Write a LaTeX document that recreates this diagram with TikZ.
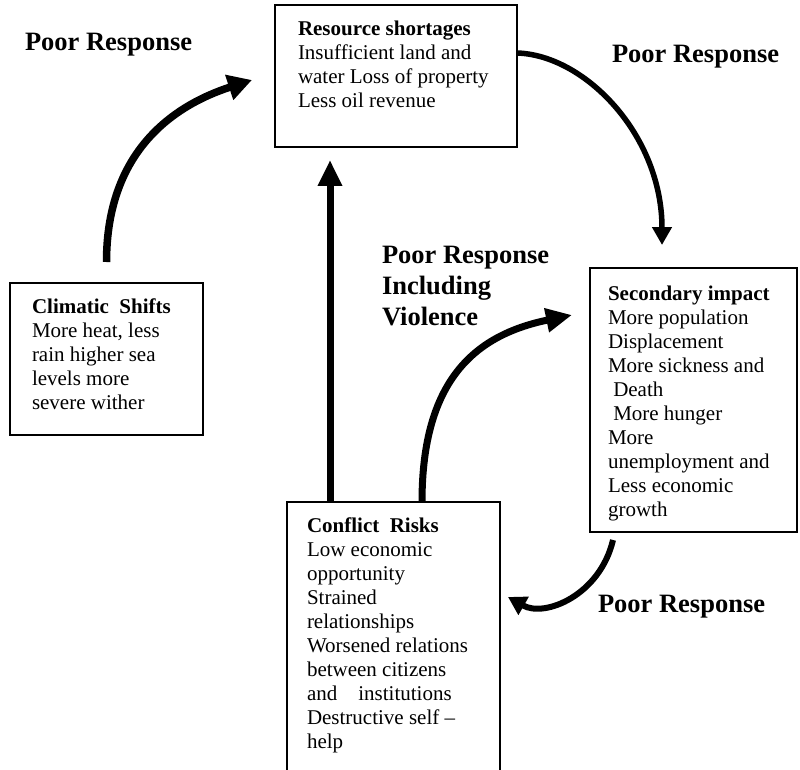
\documentclass[tikz,border=0pt]{standalone}
\usepackage{fontspec}
\setmainfont{Liberation Serif}
\usetikzlibrary{arrows.meta}
\begin{document}
\begin{tikzpicture}[x=1pt,y=-1pt,
  box/.style={draw, line width=1.8pt, rectangle, inner sep=0pt, outer sep=0pt, anchor=north west},
  txt/.style={anchor=north west, inner sep=0pt, outer sep=0pt, align=left, font=\fontsize{21}{24}\selectfont},
  lbl/.style={inner sep=0pt, outer sep=0pt, align=left, font=\fontsize{26.5}{31}\selectfont\bfseries},
  arrbig/.style={line width=7.5pt, -{Triangle[length=24pt,width=25pt]}},
  arrmid/.style={line width=7pt, -{Triangle[length=26pt,width=23pt]}},
  arrsmall/.style={line width=5.5pt, -{Triangle[length=18pt,width=19pt]}},
  arrlow/.style={line width=6pt, -{Triangle[length=18pt,width=20pt]}},
]
\useasboundingbox (0,0) rectangle (800,770);
\clip (0,0) rectangle (800,770);

% boxes
\node[box, minimum width=242pt, minimum height=142pt] (res) at (275,5) {};
\node[txt] (resT) at ([shift={(23,15.7)}]res.north west)
  {\textbf{Resource shortages}\\Insufficient land and\\water Loss of property\\Less oil revenue};

\node[box, minimum width=193pt, minimum height=152pt] (clim) at (10,283) {};
\node[txt] (climT) at ([shift={(22,15.7)}]clim.north west)
  {\textbf{Climatic\ \ Shifts}\\More heat, less\\rain higher sea\\levels more\\severe wither};

\node[box, minimum width=207pt, minimum height=264pt] (sec) at (590,268) {};
\node[txt] (secT) at ([shift={(18,17.5)}]sec.north west)
  {\textbf{Secondary impact}\\More population\\Displacement\\More sickness and\\\hspace*{0.25em}Death\\\hspace*{0.25em}More hunger\\More\\unemployment and\\Less economic\\growth};

\node[box, minimum width=213pt, minimum height=290pt] (conf) at (287,502) {};
\node[txt] (confT) at ([shift={(20,15.7)}]conf.north west)
  {\textbf{Conflict\ \ Risks}\\Low economic\\opportunity\\Strained\\relationships\\Worsened relations\\between citizens\\and\ \ \ \ institutions\\Destructive self --\\help};

% labels
\node[lbl, anchor=base west] (pr1) at (25,51) {Poor Response};
\node[lbl, anchor=base west] (pr2) at (612,63) {Poor Response};
\node[lbl, anchor=north west] (pr3) at (382,246) {Poor Response\\Including\\Violence};
\node[lbl, anchor=base west] (pr4) at (598,612) {Poor Response};

% connector end points
\coordinate (a1s) at ([yshift=21pt]clim.north);
\coordinate (a1e) at ([xshift=-23pt,yshift=-4pt]res.west);
\coordinate (a2s) at ([yshift=-48pt]res.north east);
\coordinate (a2e) at ([xshift=-31.5pt,yshift=23pt]sec.north);
\coordinate (a3s) at ([xshift=-63.5pt]conf.north);
\coordinate (a3e) at ([xshift=-66pt,yshift=-13pt]res.south);
\coordinate (a4s) at ([xshift=28.5pt]conf.north);
\coordinate (a4e) at ([xshift=-18pt,yshift=85pt]sec.west);
\coordinate (a5s) at ([xshift=-80.5pt,yshift=-8pt]sec.south);
\coordinate (a5e) at ([xshift=8pt,yshift=-95pt]conf.north east);

% connectors
\draw[arrbig] (a1s) .. controls +(0,-112) and +(-77,25) .. (a1e);
\draw[arrsmall] (a2s) .. controls +(68,2) and +(0,-110) .. (a2e);
\draw[arrmid] (a3s) -- (a3e);
\draw[arrmid] (a4s) .. controls +(0,-122) and +(-97,20) .. (a4e);
\draw[arrlow] (a5s) .. controls +(-13,55) and +(37,21) .. (a5e);
\end{tikzpicture}
\end{document}
